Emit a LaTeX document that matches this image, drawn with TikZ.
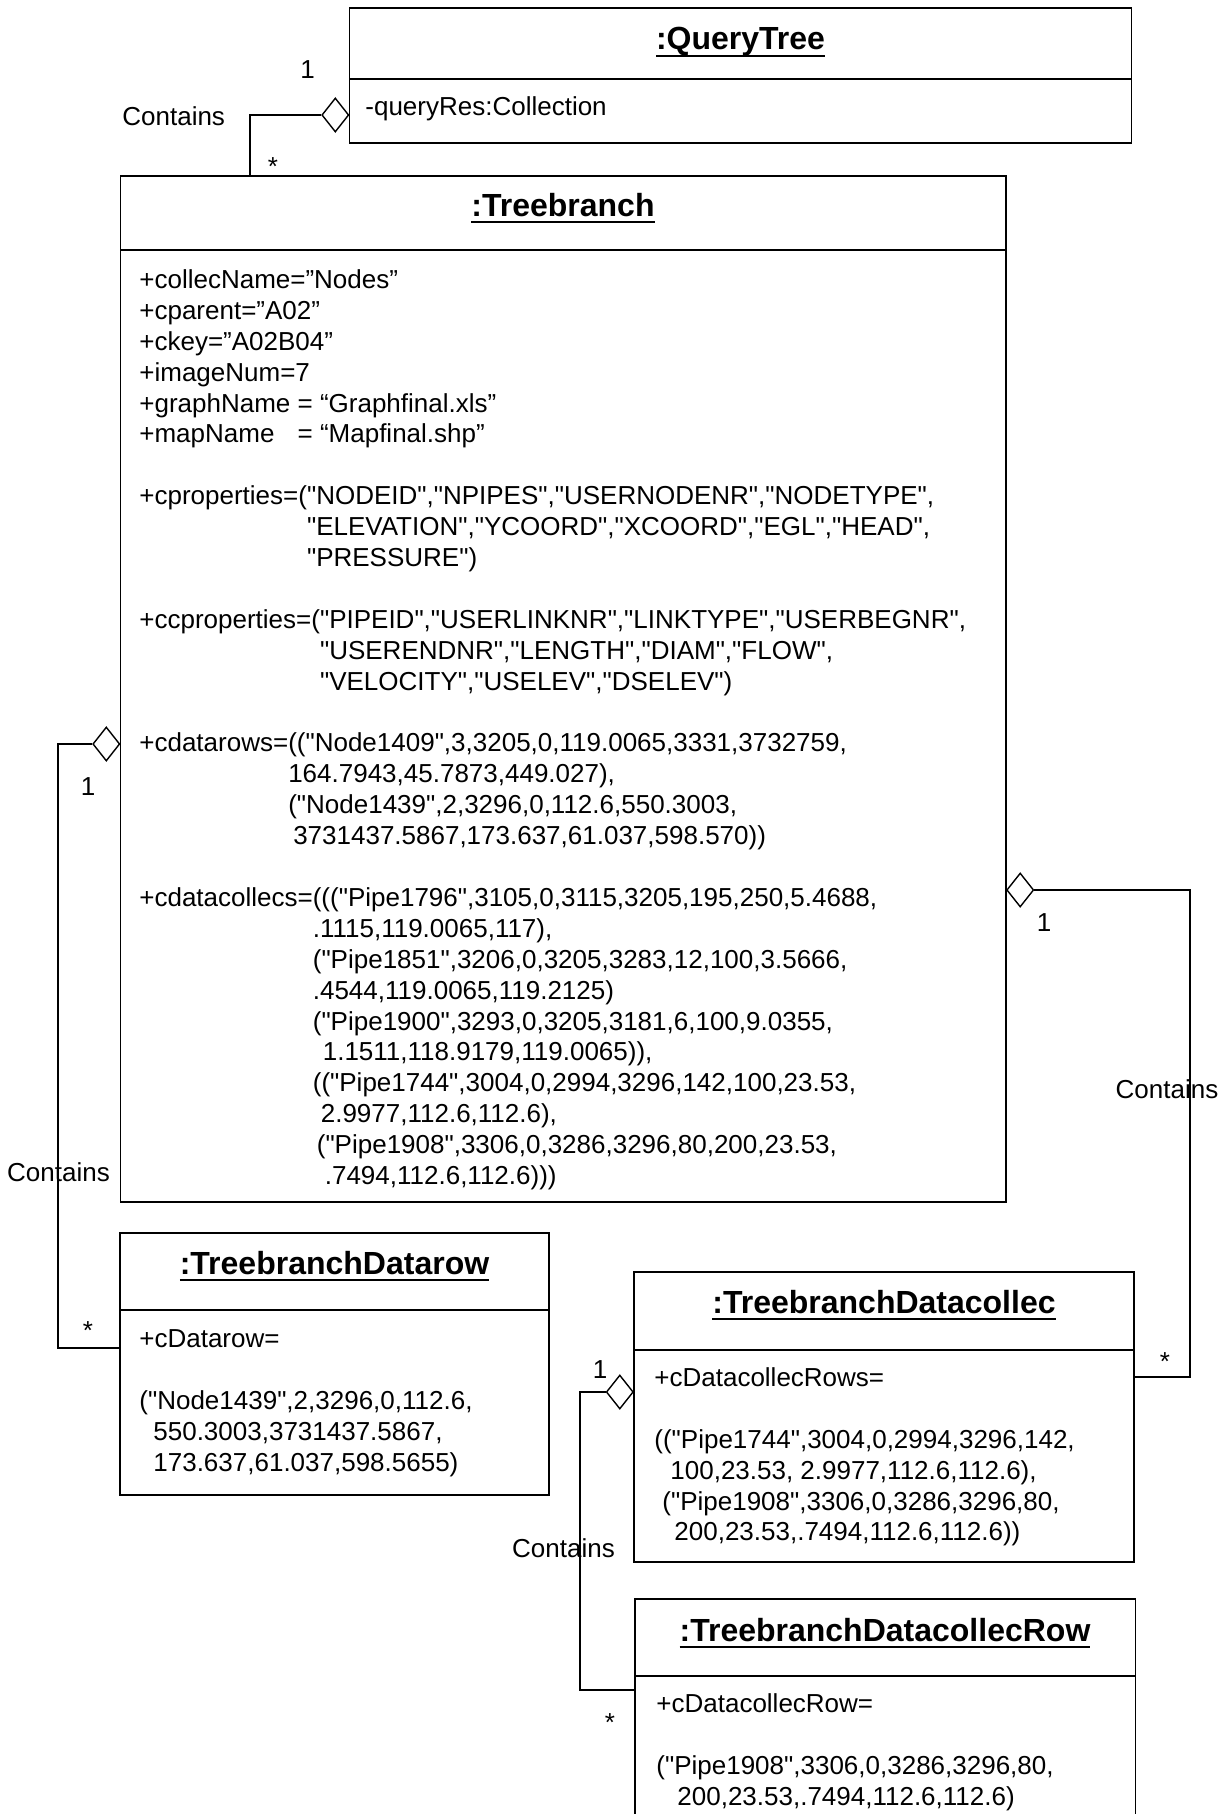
\documentclass[tikz,border=0pt]{standalone}
\usepackage{fontspec}
\setmainfont{Liberation Sans}
% a family without the TeX quote mapping, so " stays a straight quote
\newfontfamily\uifont{Liberation Sans}
\usetikzlibrary{shapes.geometric,fit}

% bold class name with a heavy underline
\newcommand{\classtitle}[1]{\setbox0\hbox{#1}\rlap{\rule[-3.6pt]{\wd0}{1.2pt}}\box0}

\begin{document}
\begin{tikzpicture}[x=0.5pt,y=-0.5pt,
  body/.style={inner sep=0pt, align=left, anchor=north west,
    font=\uifont\fontsize{13pt}{15.45pt}\selectfont},
  lbl/.style={inner sep=0pt, font=\uifont\fontsize{13pt}{15.45pt}\selectfont},
  title/.style={inner sep=0pt, anchor=base,
    font=\uifont\fontsize{16pt}{19pt}\selectfont\bfseries},
  umlbox/.style={draw, line width=0.8pt, inner sep=0pt},
  hline/.style={line width=1.4pt},
  link/.style={line width=0.7pt},
  aggr/.style={draw, line width=0.7pt, shape=diamond, inner sep=0pt,
    minimum width=13.5pt, minimum height=17pt, fill=white},
]
\useasboundingbox (0,0) rectangle (1229,1814);
\clip (0,0) rectangle (1229,1814);

% ---------- class boxes ----------
\node[umlbox, fit={(349.5,8) (1131.5,143)}] (qt) {};
\draw[hline] (349.5,8) -- (1131.5,8);
\draw[hline] (349.5,79) -- (1131.5,79);
\draw[hline] (349.5,143) -- (1131.5,143);

\node[umlbox, fit={(120.5,176) (1006,1202)}] (tb) {};
\draw[hline] (120.5,176) -- (1006,176);
\draw[hline] (120.5,250) -- (1006,250);
\draw[hline] (120.5,1202) -- (1006,1202);

\node[umlbox, fit={(120,1233) (549,1495)}] (dr) {};
\draw[hline] (120,1233) -- (549,1233);
\draw[hline] (120,1310) -- (549,1310);
\draw[hline] (120,1495) -- (549,1495);

\node[umlbox, fit={(634,1272) (1134,1562)}] (dc) {};
\draw[hline] (634,1272) -- (1134,1272);
\draw[hline] (634,1350) -- (1134,1350);
\draw[hline] (634,1562) -- (1134,1562);

\node[umlbox, fit={(635,1599) (1135.5,1860)}] (dcr) {};
\draw[hline] (635,1599) -- (1135.5,1599);
\draw[hline] (635,1676) -- (1135.5,1676);

% ---------- titles ----------
\node[title] (qtt) at (740.5,50) {\classtitle{:QueryTree}};
\node[title] (tbt) at (563,216) {\classtitle{:Treebranch}};
\node[title] (drt) at (334.5,1274) {\classtitle{:TreebranchDatarow}};
\node[title] (dct) at (884,1313) {\classtitle{:TreebranchDatacollec}};
\node[title] (dcrt) at (885,1641) {\classtitle{:TreebranchDatacollecRow}};

% ---------- attributes ----------
\node[body] (qta) at (365,93.5) {\rule{0pt}{11pt}-queryRes:Collection};

\node[body] (tba) at (139,266) {\rule{0pt}{11pt}+collecName=”Nodes”\\
+cparent=”A02”\\
+ckey=”A02B04”\\
+imageNum=7\\
+graphName = “Graphfinal.xls”\\
\rlap{+mapName}\phantom{+graphName} = “Mapfinal.shp”\\[15.45pt]
+cproperties=("NODEID","NPIPES","USERNODENR","NODETYPE",\\
\phantom{+cproperties=(}"ELEVATION","YCOORD","XCOORD","EGL","HEAD",\\
\phantom{+cproperties=(}"PRESSURE")\\[15.45pt]
+ccproperties=("PIPEID","USERLINKNR","LINKTYPE","USERBEGNR",\\
\phantom{+ccproperties=(}"USERENDNR","LENGTH","DIAM","FLOW",\\
\phantom{+ccproperties=(}"VELOCITY","USELEV","DSELEV")\\[15.45pt]
+cdatarows=(("Node1409",3,3205,0,119.0065,3331,3732759,\\
\phantom{+cdatarows=}164.7943,45.7873,449.027),\\
\phantom{+cdatarows=}("Node1439",2,3296,0,112.6,550.3003,\\
\phantom{+cdatarows=}\hspace*{2.5pt}3731437.5867,173.637,61.037,598.570))\\[15.45pt]
+cdatacollecs=((("Pipe1796",3105,0,3115,3205,195,250,5.4688,\\
\phantom{+cdatacollecs=}.1115,119.0065,117),\\
\phantom{+cdatacollecs=}("Pipe1851",3206,0,3205,3283,12,100,3.5666,\\
\phantom{+cdatacollecs=}.4544,119.0065,119.2125)\\
\phantom{+cdatacollecs=}("Pipe1900",3293,0,3205,3181,6,100,9.0355,\\
\phantom{+cdatacollecs=}\hspace*{5pt}1.1511,118.9179,119.0065)),\\
\phantom{+cdatacollecs=}(("Pipe1744",3004,0,2994,3296,142,100,23.53,\\
\phantom{+cdatacollecs=}\hspace*{4pt}2.9977,112.6,112.6),\\
\phantom{+cdatacollecs=}\hspace*{2pt}("Pipe1908",3306,0,3286,3296,80,200,23.53,\\
\phantom{+cdatacollecs=}\hspace*{6pt}.7494,112.6,112.6)))};

\node[body] (dra) at (139,1325) {\rule{0pt}{11pt}+cDatarow=\\[15.45pt]
("Node1439",2,3296,0,112.6,\\
\hspace*{7pt}550.3003,3731437.5867,\\
\hspace*{7pt}173.637,61.037,598.5655)};

\node[body] (dca) at (654,1364) {\rule{0pt}{11pt}+cDatacollecRows=\\[15.45pt]
(("Pipe1744",3004,0,2994,3296,142,\\
\hspace*{8pt}100,23.53, 2.9977,112.6,112.6),\\
\hspace*{4pt}("Pipe1908",3306,0,3286,3296,80,\\
\hspace*{10pt}200,23.53,.7494,112.6,112.6))};

\node[body] (dcra) at (656,1690.5) {\rule{0pt}{11pt}+cDatacollecRow=\\[15.45pt]
("Pipe1908",3306,0,3286,3296,80,\\
\hspace*{10.5pt}200,23.53,.7494,112.6,112.6)};

% ---------- aggregation links ----------
\coordinate (k1) at (250,0);
\coordinate (b2) at (58,1348);
\coordinate (b3) at (1190,1377);
\coordinate (b4) at (580,1690);

\node[aggr, anchor=east] (d1) at (349.5,115) {};
\node[aggr, anchor=east] (d2) at (120.5,744) {};
\node[aggr, anchor=west] (d3) at (1006,890) {};
\node[aggr, anchor=east] (d4) at (634,1392) {};

\draw[link] (d1.west) -| (tb.north -| k1);
\draw[link] (d2.west) -| (b2) -- (b2 -| dr.west);
\draw[link] (d3.east) -| (b3) -- (b3 -| dc.east);
\draw[link] (d4.west) -| (b4) -- (b4 -| dcr.west);

% ---------- link labels ----------
\node[lbl] (c1) at (173.7,116) {Contains};
\node[lbl] (c2) at (58.5,1172) {Contains};
\node[lbl] (c3) at (1167,1089) {Contains};
\node[lbl] (c4) at (563.5,1548) {Contains};

\node[lbl] (m1) at (307.6,70) {1};
\node[lbl] (m2) at (88,787) {1};
\node[lbl] (m3) at (1044,923) {1};
\node[lbl] (m4) at (600,1370) {1};

\node[lbl, anchor=base] (s1) at (273,176) {*};
\node[lbl, anchor=base] (s2) at (88,1339) {*};
\node[lbl, anchor=base] (s3) at (1165,1370) {*};
\node[lbl, anchor=base] (s4) at (610,1731) {*};
\end{tikzpicture}
\end{document}
